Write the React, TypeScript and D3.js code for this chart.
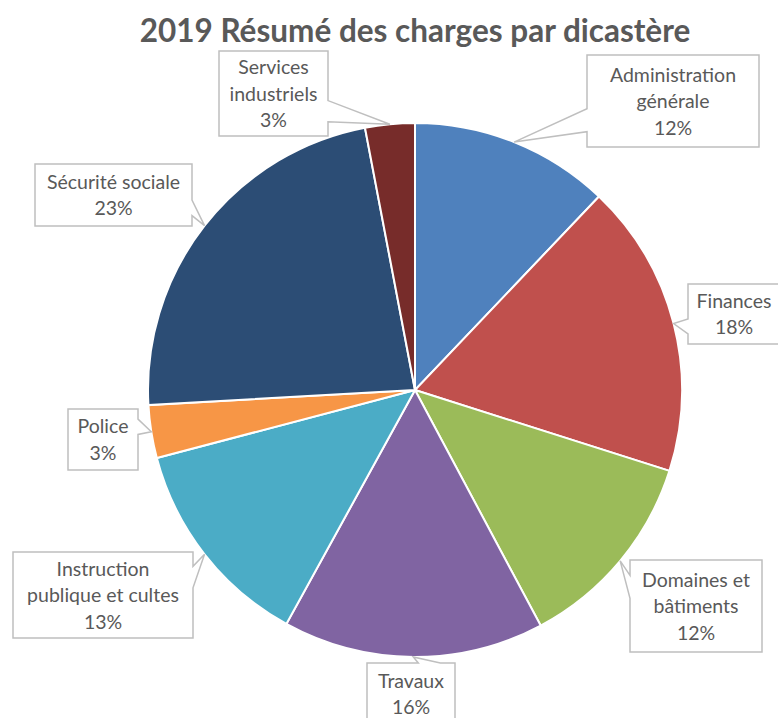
import React from 'react';
import * as d3 from 'd3';

const title = '2019 Résumé des charges par dicastère';

const categories = [
  'Administration générale',
  'Finances',
  'Domaines et bâtiments',
  'Travaux',
  'Instruction publique et cultes',
  'Police',
  'Sécurité sociale',
  'Services industriels',
];

// label lines as they wrap in the callouts
const labelLines = [
  ['Administration', 'générale'],
  ['Finances'],
  ['Domaines et', 'bâtiments'],
  ['Travaux'],
  ['Instruction', 'publique et cultes'],
  ['Police'],
  ['Sécurité sociale'],
  ['Services', 'industriels'],
];

// share of total charges (%)
const values = [12.1, 17.8, 12.3, 15.8, 12.9, 3.2, 22.9, 3.0];

const colors = ['#4F81BD', '#C0504D', '#9BBB59', '#8064A2', '#4BACC6', '#F79646', '#2C4D75', '#772C2A'];

// callout boxes: [x, y, w, h]
const boxes = [
  [587, 55, 172, 92],
  [688, 284, 92, 60],
  [630, 560, 132, 92],
  [367, 663, 88, 62],
  [13, 552, 180, 86],
  [68, 409, 70, 61],
  [35, 164, 157, 62],
  [219, 51, 109, 85],
];

const W = 778;
const H = 718;
const cx = 415;
const cy = 390;
const radius = 267;
const font = 'Lato, "Open Sans", sans-serif';

function calloutPath(box: number[], tx: number, ty: number) {
  const [l, t, w, h] = box;
  const r = l + w;
  const b = t + h;
  const dx = tx - (l + w / 2);
  const dy = ty - (t + h / 2);
  const x1 = l + (w * (dx > 0 ? 7 : 2)) / 12;
  const x2 = l + (w * (dx > 0 ? 10 : 5)) / 12;
  const y1 = t + (h * (dy > 0 ? 7 : 2)) / 12;
  const y2 = t + (h * (dy > 0 ? 10 : 5)) / 12;
  const vertical = Math.abs(dy) / h > Math.abs(dx) / w;
  const p = d3.path();
  p.moveTo(l, t);
  if (vertical && dy < 0) {
    p.lineTo(x1, t);
    p.lineTo(tx, ty);
    p.lineTo(x2, t);
  }
  p.lineTo(r, t);
  if (!vertical && dx > 0) {
    p.lineTo(r, y1);
    p.lineTo(tx, ty);
    p.lineTo(r, y2);
  }
  p.lineTo(r, b);
  if (vertical && dy > 0) {
    p.lineTo(x2, b);
    p.lineTo(tx, ty);
    p.lineTo(x1, b);
  }
  p.lineTo(l, b);
  if (!vertical && dx < 0) {
    p.lineTo(l, y2);
    p.lineTo(tx, ty);
    p.lineTo(l, y1);
  }
  p.closePath();
  return p.toString();
}

export default function App() {
  const total = d3.sum(values);
  const pie = d3.pie<number>().sort(null).value((d) => d);
  const arcs = pie(values);
  const arc = d3.arc<d3.PieArcDatum<number>>().innerRadius(0).outerRadius(radius);
  const lh = 26.5;

  return (
    <svg width={W} height={H} style={{ position: 'absolute', left: 0, top: 0, background: '#fff' }}>
      <text x={cx} y={42} textAnchor="middle" fontFamily={font} fontWeight="bold" fontSize={31.5} fill="#595959">
        {title}
      </text>
      <g transform={`translate(${cx},${cy})`}>
        {arcs.map((a, i) => (
          <path key={categories[i]} d={arc(a) || ''} fill={colors[i]} stroke="#fff" strokeWidth={2} />
        ))}
      </g>
      {arcs.map((a, i) => {
        const mid = (a.startAngle + a.endAngle) / 2;
        const tx = cx + radius * Math.sin(mid);
        const ty = cy - radius * Math.cos(mid);
        const box = boxes[i];
        const lines = [...labelLines[i], `${Math.round((values[i] / total) * 100)}%`];
        const bcx = box[0] + box[2] / 2;
        const bcy = box[1] + box[3] / 2;
        return (
          <g key={categories[i]}>
            <path d={calloutPath(box, tx, ty)} fill="#fff" stroke="#BFBFBF" strokeWidth={1.5} />
            <text textAnchor="middle" fontFamily={font} fontSize={19.5} fill="#595959">
              {lines.map((ln, j) => (
                <tspan key={j} x={bcx} y={bcy + (j - (lines.length - 1) / 2) * lh} dy="0.36em">
                  {ln}
                </tspan>
              ))}
            </text>
          </g>
        );
      })}
    </svg>
  );
}
